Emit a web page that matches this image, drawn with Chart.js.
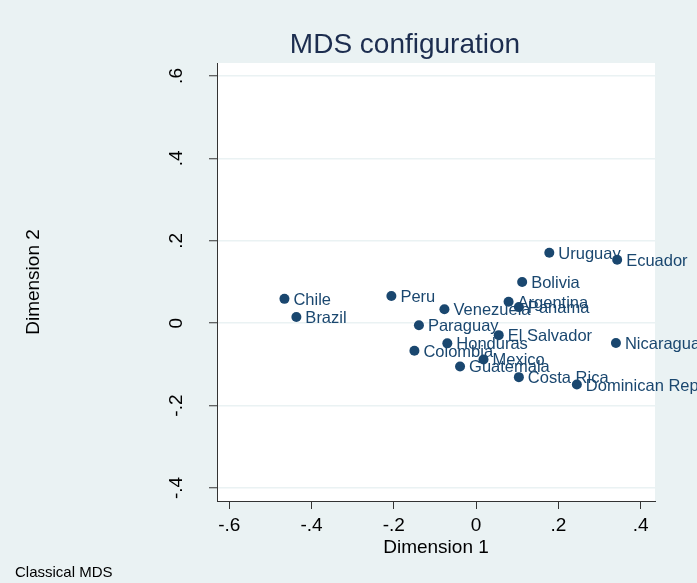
<!DOCTYPE html>
<html>
<head>
<meta charset="utf-8">
<title>MDS configuration</title>
<script src="https://cdn.jsdelivr.net/npm/chart.js@4.4.1/dist/chart.umd.min.js"></script>
<style>
    html, body { margin: 0; padding: 0; background: #eaf2f3; }
    #wrap { width: 697px; height: 583px; }
</style>
</head>
<body>
<div id="wrap"><canvas id="mds" width="697" height="583"></canvas></div>
<script>
// Coordinates
const countries = ['Chile', 'Brazil', 'Peru', 'Venezuela', 'Paraguay', 'Colombia', 'Honduras',
    'Uruguay', 'Ecuador', 'Bolivia', 'Argentina', 'Panama', 'El Salvador', 'Nicaragua',
    'Mexico', 'Guatemala', 'Costa Rica', 'Dominican Rep.'];
const dim1 = [-0.466, -0.437, -0.206, -0.077, -0.139, -0.150, -0.070,
    0.178, 0.343, 0.112, 0.079, 0.104, 0.055, 0.340,
    0.018, -0.039, 0.104, 0.245];
const dim2 = [0.059, 0.015, 0.066, 0.034, -0.005, -0.067, -0.049,
    0.171, 0.154, 0.100, 0.052, 0.039, -0.029, -0.048,
    -0.088, -0.105, -0.131, -0.149];
const xTicks = [-0.6, -0.4, -0.2, 0, 0.2, 0.4];
const xTickLabels = ['-.6', '-.4', '-.2', '0', '.2', '.4'];
const yTicks = [-0.4, -0.2, 0, 0.2, 0.4, 0.6];
const yTickLabels = ['-.4', '-.2', '0', '.2', '.4', '.6'];

const FONT = '"Liberation Sans", Arial, Helvetica, sans-serif';
const NAVY = '#1a476f';
const BG = '#eaf2f3';

// Graph region + white plot region
const background = {
    id: 'background',
    beforeDraw(chart) {
        const { ctx, chartArea: a } = chart;
        ctx.save();
        ctx.fillStyle = BG;
        ctx.fillRect(0, 0, chart.width, chart.height);
        ctx.fillStyle = '#ffffff';
        ctx.fillRect(a.left, a.top, a.right - a.left, a.bottom - a.top);
        ctx.restore();
    }
};

// Country names to the right of each marker
const pointLabels = {
    id: 'pointLabels',
    afterDatasetsDraw(chart) {
        const ctx = chart.ctx;
        const meta = chart.getDatasetMeta(0);
        ctx.save();
        ctx.font = '16.5px ' + FONT;
        ctx.fillStyle = NAVY;
        ctx.textAlign = 'left';
        ctx.textBaseline = 'middle';
        meta.data.forEach((pt, i) => {
            ctx.fillText(countries[i], pt.x + 9, pt.y + 1.5);
        });
        ctx.restore();
    }
};

// Titles, rotated y tick labels and note
const texts = {
    id: 'texts',
    afterDraw(chart) {
        const ctx = chart.ctx;
        const a = chart.chartArea;
        const yScale = chart.scales.y;
        ctx.save();

        ctx.fillStyle = '#1c2d4f';
        ctx.font = '28px ' + FONT;
        ctx.textAlign = 'center';
        ctx.textBaseline = 'alphabetic';
        ctx.fillText('MDS configuration', 405, 53);

        ctx.fillStyle = '#000000';
        ctx.font = '19px ' + FONT;
        ctx.fillText('Dimension 1', (a.left + a.right) / 2, 553);

        ctx.save();
        ctx.translate(38.5, (a.top + a.bottom) / 2);
        ctx.rotate(-Math.PI / 2);
        ctx.fillText('Dimension 2', 0, 0);
        ctx.restore();

        yTicks.forEach((v, i) => {
            ctx.save();
            ctx.translate(182, yScale.getPixelForValue(v));
            ctx.rotate(-Math.PI / 2);
            ctx.fillText(yTickLabels[i], 0, 0);
            ctx.restore();
        });

        ctx.font = '15px ' + FONT;
        ctx.textAlign = 'left';
        ctx.fillText('Classical MDS', 15, 577);
        ctx.restore();
    }
};

const points = dim1.map((x, i) => ({ x: x, y: dim2[i] }));

new Chart(document.getElementById('mds'), {
    type: 'scatter',
    data: {
        datasets: [{
            data: points,
            backgroundColor: NAVY,
            borderWidth: 0,
            pointRadius: 5,
            pointHoverRadius: 5
        }]
    },
    options: {
        responsive: false,
        animation: false,
        devicePixelRatio: 1,
        events: [],
        layout: { padding: { left: 0, top: 63, right: 42, bottom: 0 } },
        plugins: {
            legend: { display: false },
            tooltip: { enabled: false }
        },
        scales: {
            x: {
                type: 'linear',
                min: -0.63,
                max: 0.435,
                afterBuildTicks: s => { s.ticks = xTicks.map(v => ({ value: v })); },
                afterFit: s => { s.height = 82; },
                grid: {
                    display: true,
                    drawOnChartArea: false,
                    drawTicks: true,
                    tickLength: 8,
                    tickColor: '#333333',
                    tickWidth: 1
                },
                border: { display: true, color: '#333333', width: 1 },
                ticks: {
                    padding: 5,
                    color: '#000000',
                    font: { family: FONT, size: 19 },
                    maxRotation: 0,
                    callback: (value, index) => xTickLabels[index]
                }
            },
            y: {
                type: 'linear',
                min: -0.4316,
                max: 0.6315,
                afterBuildTicks: s => { s.ticks = yTicks.map(v => ({ value: v })); },
                afterFit: s => { s.width = 217; },
                grid: {
                    display: true,
                    color: BG,
                    lineWidth: 1.5,
                    drawTicks: true,
                    tickLength: 8,
                    tickColor: '#333333',
                    tickWidth: 1
                },
                border: { display: true, color: '#333333', width: 1 },
                ticks: { display: false }
            }
        }
    },
    plugins: [background, pointLabels, texts]
});
</script>
</body>
</html>
